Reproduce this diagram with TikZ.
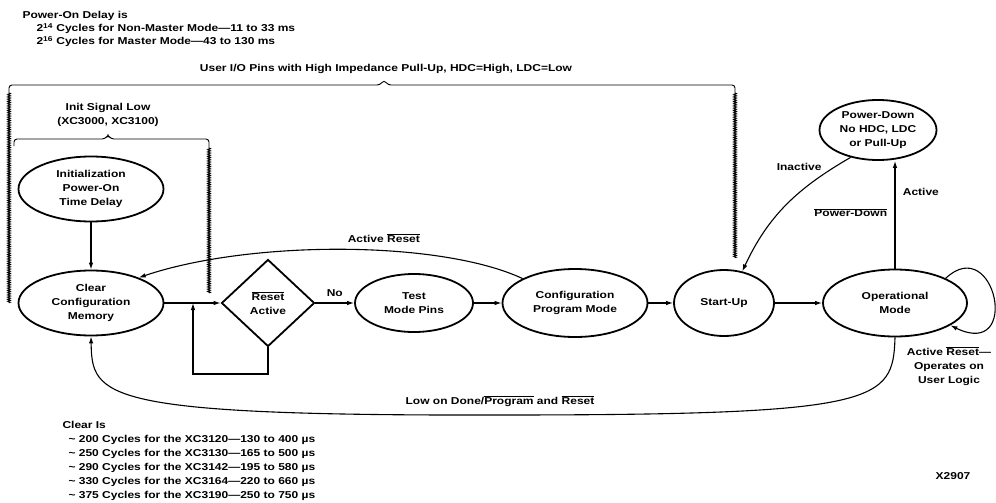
\documentclass[tikz,border=0pt]{standalone}
\usepackage{fontspec}
\setmainfont{Liberation Sans}[FakeStretch=1.2]
\usetikzlibrary{shapes.geometric,arrows.meta,decorations.pathmorphing}
\newcommand{\barsig}[1]{$\overline{\mbox{#1}}$}
\tikzset{
  state/.style={ellipse,draw,line width=1.8pt,inner sep=0pt,align=center},
  test/.style={diamond,draw,line width=1.8pt,inner sep=0pt,align=center},
  note/.style={align=left,inner sep=0pt},
  brace/.style={line width=0.9pt,rounded corners=3pt},
  wavy/.style={decorate,decoration={zigzag,amplitude=1.4pt,segment length=1.8pt},line width=0.8pt},
}
\begin{document}
\begin{tikzpicture}[x=1pt,y=-1pt,font=\fontsize{10}{14}\selectfont\bfseries,
  >={Latex[length=7pt,width=4.5pt]},line width=1.1pt]
\useasboundingbox (0,0) rectangle (996,503);

\node[note,anchor=north west,font=\fontsize{10}{13}\selectfont\bfseries] (pod) at (22,11)
  {Power-On Delay is\\
   \hspace*{14pt}2\textsuperscript{14} Cycles for Non-Master Mode—11 to 33 ms\\
   \hspace*{14pt}2\textsuperscript{16} Cycles for Master Mode—43 to 130 ms};
\node (uio) at (386,69) {User I/O Pins with High Impedance Pull-Up, HDC=High, LDC=Low};
\node[align=center] (isl) at (108,115) {Init Signal Low\\(XC3000, XC3100)};

\draw[brace] (9,93) -- (9,85) -- (380,85) -- (384,80) -- (388,85) -- (735,85) -- (735,93);
\draw[wavy] (9,93) -- (9,303);
\draw[wavy] (735,93) -- (735,258);
\draw[brace] (14,146) -- (14,139) -- (105,139) -- (108,135) -- (111,139) -- (209,139) -- (209,148);
\draw[wavy] (209,148) -- (209,293);

\node[state,minimum width=145,minimum height=65] (init) at (91,189) {Initialization\\Power-On\\Time Delay};
\node[state,minimum width=145,minimum height=65] (clr) at (91,303) {Clear\\Configuration\\Memory};
\node[test,minimum width=93,minimum height=87] (rst) at (268,303) {\barsig{Reset}\\Active};
\node[state,minimum width=118,minimum height=58] (tmp) at (414,303) {Test\\Mode Pins};
\node[state,minimum width=145,minimum height=68] (cfg) at (575,303) {Configuration\\Program Mode};
\node[state,minimum width=100,minimum height=66] (sup) at (724,303) {Start-Up};
\node[state,minimum width=144,minimum height=67] (opm) at (895,303) {Operational\\Mode};
\node[state,minimum width=117,minimum height=60] (pdn) at (878,130) {Power-Down\\No HDC, LDC\\or Pull-Up};

\draw[->] (init) -- (clr);
\draw[->] (clr) -- (rst);
\coordinate (lp) at (193,374);
\draw[->] (rst.south) |- (lp) -- (lp |- clr.east);
\draw[->] (rst) -- node[above=3pt] {No} (tmp);
\draw[->] (tmp) -- (cfg);
\draw[->] (cfg) -- (sup);
\draw[->] (sup) -- (opm);
\draw[->] (opm.north) -- node[pos=0.71,right=4pt] {Active}
  node[pos=0.52,left=4pt] {\barsig{Power-Down}} (opm.north |- pdn.south);
\draw[->] (pdn.225) to[out=210,in=65] node[pos=0.1,left=10pt] {Inactive} (sup.60);
\draw[->] (cfg.155) .. controls (440,240) and (250,240) .. node[pos=0.4,above=4pt] {Active \barsig{Reset}} (clr.28);
\draw[->] (opm.south) .. controls (893,402) and (880,415) .. (500,415)
  node[above=5pt] {Low on Done/\barsig{Program} and \barsig{Reset}}
  .. controls (100,416) and (92,397) .. (clr.south);
\draw[->] (opm.26) .. controls (995,232) and (1022,360) .. (opm.-22);
\node[align=center] (arl) at (949,366) {Active \barsig{Reset}—\\Operates on\\User Logic};

\node[note,anchor=north west] (clk) at (62,421)
  {Clear Is\\
   \hspace*{6pt}\textasciitilde\ 200 Cycles for the XC3120—130 to 400 µs\\
   \hspace*{6pt}\textasciitilde\ 250 Cycles for the XC3130—165 to 500 µs\\
   \hspace*{6pt}\textasciitilde\ 290 Cycles for the XC3142—195 to 580 µs\\
   \hspace*{6pt}\textasciitilde\ 330 Cycles for the XC3164—220 to 660 µs\\
   \hspace*{6pt}\textasciitilde\ 375 Cycles for the XC3190—250 to 750 µs};
\node (xid) at (953,476) {X2907};
\end{tikzpicture}
\end{document}
